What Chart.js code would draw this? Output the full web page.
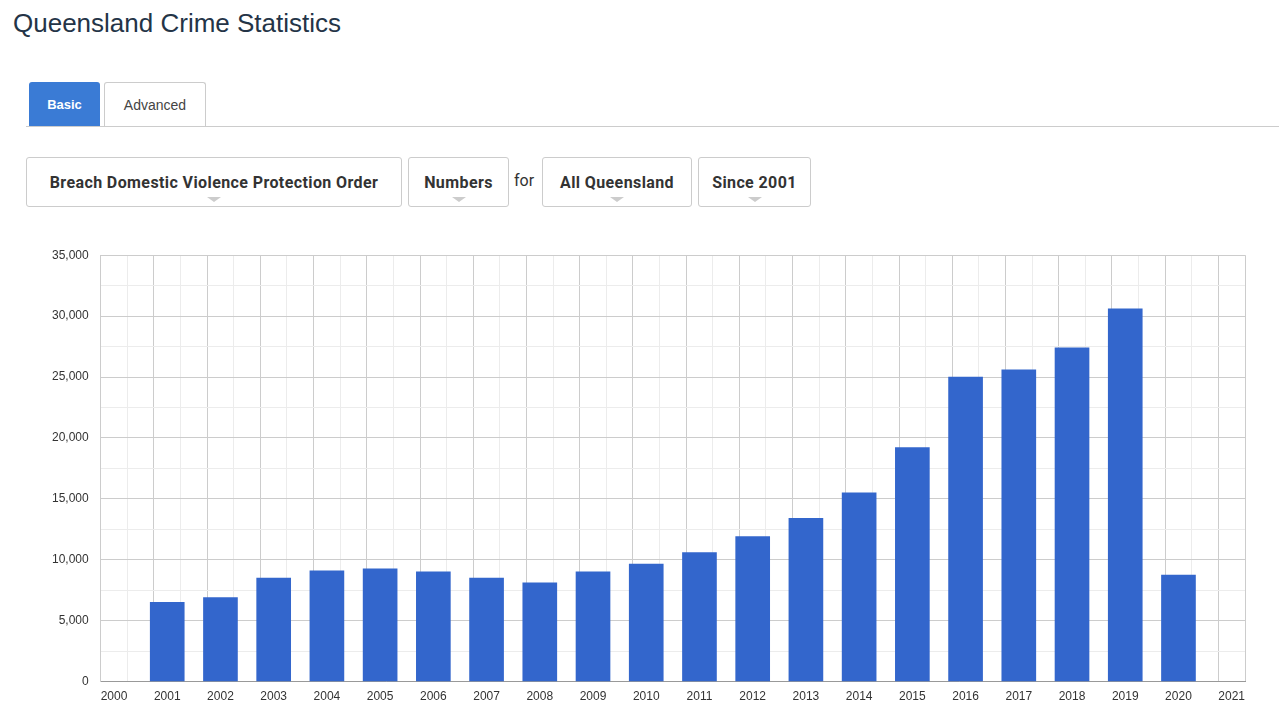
<!DOCTYPE html>
<html><head><meta charset="utf-8">
<script src="https://cdn.jsdelivr.net/npm/chart.js@4/dist/chart.umd.min.js"></script>
<style>
body{margin:0;background:#fff;font-family:"Liberation Sans",Arial,sans-serif;width:1279px;height:720px;position:relative;overflow:hidden}
h1{position:absolute;left:13px;top:8px;margin:0;font-weight:400;font-size:26px;color:#243447}
.tab{position:absolute;top:82px;height:44px;box-sizing:border-box;font-size:14px;display:flex;align-items:center;justify-content:center}
.basic{left:29px;width:71px;background:#3a7bd5;color:#fff;border-radius:3px 3px 0 0;font-weight:700;font-size:13px}
.adv{left:104px;width:102px;border:1px solid #ccc;border-bottom:none;border-radius:3px 3px 0 0;color:#444}
.rule{position:absolute;left:26px;right:0;top:126px;border-top:1px solid #ccc}
.dd{position:absolute;top:157px;height:50px;box-sizing:border-box;border:1px solid #ccc;border-radius:3px;display:flex;align-items:center;justify-content:center;font-weight:700;font-size:16px;color:#333;font-family:Roboto,sans-serif;letter-spacing:0.4px}
.dd:after{content:"";position:absolute;bottom:4px;left:50%;margin-left:-7px;border:7px solid transparent;border-top:5px solid #ccc;border-bottom:0}
.for{position:absolute;left:514px;top:171px;font-size:16px;color:#333;font-family:Roboto,sans-serif}
#wrap{position:absolute;left:40px;top:236px;width:1225px;height:476px}
</style></head><body>
<h1>Queensland Crime Statistics</h1>
<div class="tab basic">Basic</div><div class="tab adv">Advanced</div><div class="rule"></div>
<div class="dd" style="left:26px;width:376px">Breach Domestic Violence Protection Order</div>
<div class="dd" style="left:408px;width:101px">Numbers</div>
<div class="for">for</div>
<div class="dd" style="left:542px;width:150px">All Queensland</div>
<div class="dd" style="left:698px;width:113px">Since 2001</div>
<div id="wrap"><canvas id="c"></canvas></div>
<script>
const years = [2001,2002,2003,2004,2005,2006,2007,2008,2009,2010,2011,2012,2013,2014,2015,2016,2017,2018,2019,2020];
const offences = [6500,6900,8500,9100,9250,9000,8500,8100,9000,9650,10600,11900,13400,15500,19200,25000,25600,27400,30600,8750];

new Chart(document.getElementById('c'), {
  type: 'bar',
  data: {
    datasets: [{
      data: years.map((y, i) => ({x: y, y: offences[i]})),
      backgroundColor: '#3366cc',
      barThickness: 34
    }]
  },
  options: {
    responsive: true,
    maintainAspectRatio: false,
    animation: false,
    plugins: {legend: {display: false}, tooltip: {enabled: false}},
    layout: {padding: {right: 20}},
    scales: {
      x: {
        type: 'linear', min: 2000, max: 2021,
        border: {color: '#999'},
        grid: {color: c => (c.tick && !Number.isInteger(c.tick.value)) ? '#ececec' : '#ccc', drawTicks: false},
        ticks: {stepSize: 0.5, autoSkip: false, maxRotation: 0, padding: 8, color: '#333', font: {size: 12},
          callback: v => Number.isInteger(v) ? String(v) : ''}
      },
      y: {
        min: 0, max: 35000,
        border: {color: '#ccc'},
        grid: {color: c => (c.tick && c.tick.value % 5000 !== 0) ? '#ececec' : '#ccc', drawTicks: false},
        ticks: {stepSize: 2500, padding: 12, color: '#333', font: {size: 12},
          callback: v => v % 5000 === 0 ? v.toLocaleString('en-US') : ''}
      }
    }
  }
});
</script>
</body></html>
